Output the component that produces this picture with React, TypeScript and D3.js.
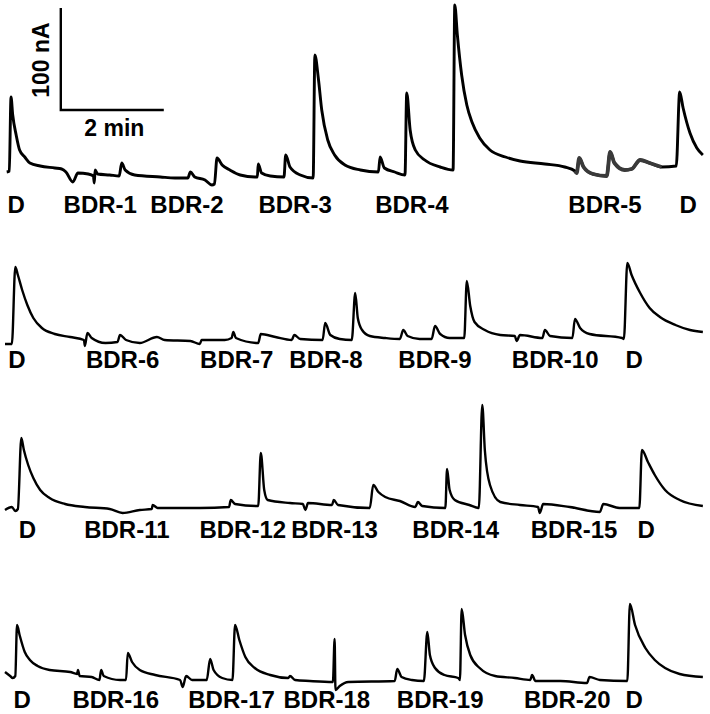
import React from "react";
import * as d3 from "d3";

// Time in seconds, current in nA (relative to each row's resting baseline)
const TRACE_1: [number, number][] = [
  [2, 3], [5, 4], [7, 78], [9, 60], [13, 40], [17, 25], [23, 18], [29, 12], [41, 9], [58, 7], [66, 6],
  [71, 3], [79, -7], [85, 2], [97, 1], [103, -1], [104, -8], [105, 5], [108, 1], [122, 0], [133, -1],
  [136, 12], [140, 5], [151, 0], [181, -2], [198, -3], [213, -3], [216, 3], [221, -2], [233, -5],
  [241, -10], [244, -9], [247, 17], [253, 10], [262, 5], [274, 0], [291, -2], [294, -2], [295, 11],
  [299, 2], [309, -1], [325, -2], [327, 20], [332, 8], [344, 0], [359, -3], [361, 120], [365, 97],
  [369, 65], [376, 35], [384, 20], [396, 10], [414, 5], [435, 3], [437, 18], [442, 7], [454, 3],
  [466, 0], [468, 82], [472, 45], [478, 25], [489, 15], [507, 8], [522, 5], [524, 170], [527, 140],
  [532, 100], [538, 70], [544, 53], [553, 37], [565, 25], [583, 18], [600, 14], [629, 11], [652, 8],
  [664, 4], [666, 2], [669, 17], [674, 8], [685, 1], [701, -1], [705, 23], [710, 12], [722, 5],
  [730, 6], [740, 15], [751, 12], [765, 8], [782, 9], [786, 83], [790, 67], [798, 42], [806, 27], [813, 20],
];

const TRACE_2: [number, number][] = [
  [0, -4], [8, -4], [12, 73], [15, 65], [20, 50], [26, 35], [33, 22], [43, 12], [58, 6], [76, 3],
  [92, 0], [93, -6], [96, 7], [101, 2], [117, -3], [131, -2], [134, 5], [141, 0], [157, -3], [177, 3],
  [186, 0], [216, -1], [227, -4], [229, 0], [256, 0], [264, 2], [266, 8], [269, 2], [295, -3], [298, 6],
  [315, 3], [334, 0], [337, 5], [344, 1], [370, 0], [373, 17], [379, 5], [390, 1], [404, 0], [408, 47],
  [411, 22], [416, 10], [425, 4], [443, 2], [460, 1], [464, 10], [469, 4], [483, 1], [497, 1], [501, 14],
  [507, 6], [518, 2], [535, 2], [538, 59], [542, 34], [547, 18], [559, 10], [577, 5], [594, 4], [596, -1],
  [600, 5], [626, 2], [629, 10], [635, 4], [661, 2], [664, 21], [670, 12], [681, 6], [719, 2], [721, 1],
  [725, 77], [730, 65], [740, 47], [751, 32], [763, 23], [781, 15], [798, 10], [813, 8],
];

const TRACE_3: [number, number][] = [
  [0, -2], [8, 1], [12, -3], [15, -1], [19, 70], [22, 58], [27, 43], [33, 30], [41, 18], [52, 10],
  [70, 4], [93, 1], [122, -1], [137, -5], [157, -2], [171, -1], [172, 3], [178, 0], [227, 0], [261, 1],
  [263, 8], [268, 4], [295, 2], [298, 55], [302, 18], [306, 8], [332, 5], [347, 4], [350, -2], [353, 5],
  [381, 3], [383, 8], [388, 3], [425, 0], [429, 23], [435, 16], [443, 11], [460, 7], [478, 1], [481, 6],
  [486, 2], [513, 0], [515, 39], [518, 18], [524, 8], [541, 3], [552, 0], [556, 103], [559, 58], [565, 23],
  [577, 6], [600, 3], [621, 1], [623, -5], [627, 4], [658, 1], [693, -4], [697, 4], [716, 0], [739, 0],
  [742, 58], [749, 46], [757, 33], [769, 18], [786, 8], [813, 2],
];

const TRACE_4: [number, number][] = [
  [0, 8], [6, 4], [9, 2], [12, 4], [14, 55], [17, 45], [23, 28], [29, 20], [38, 14], [52, 10], [76, 8],
  [84, 6], [85, 10], [87, 4], [101, 3], [110, 0], [112, 10], [115, 4], [134, 0], [141, 0], [143, 27],
  [148, 18], [157, 10], [175, 5], [204, 0], [207, -7], [211, 4], [218, 0], [235, 0], [239, 21], [243, 10],
  [253, 2], [265, 0], [268, 55], [273, 40], [280, 23], [291, 12], [309, 5], [330, 2], [332, 4], [338, 0],
  [355, -1], [382, -2], [384, 41], [385, -10], [390, -6], [400, -2], [454, -1], [457, 11], [462, 3],
  [474, 0], [488, -1], [492, 48], [495, 25], [501, 12], [512, 5], [528, 2], [530, 0], [532, 71], [536, 45],
  [542, 25], [553, 12], [571, 4], [594, 2], [612, 0], [614, 5], [618, -1], [647, -1], [678, -3], [681, 3],
  [693, 0], [725, -1], [728, 76], [734, 55], [746, 32], [757, 20], [769, 12], [786, 6], [813, 3],
];

// Labels: [text, time (s) of label centre]
const LABELS_1: [string, number][] = [
  ["D", 13], ["BDR-1", 111], ["BDR-2", 212], ["BDR-3", 338], ["BDR-4", 474], ["BDR-5", 699], ["D", 796],
];
const LABELS_2: [string, number][] = [
  ["D", 14], ["BDR-6", 137], ["BDR-7", 270], ["BDR-8", 374], ["BDR-9", 501], ["BDR-10", 641], ["D", 733],
];
const LABELS_3: [string, number][] = [
  ["D", 26], ["BDR-11", 142], ["BDR-12", 277], ["BDR-13", 384], ["BDR-14", 525], ["BDR-15", 663], ["D", 747],
];
const LABELS_4: [string, number][] = [
  ["D", 20], ["BDR-16", 129], ["BDR-17", 264], ["BDR-18", 375], ["BDR-19", 507], ["BDR-20", 655], ["D", 733],
];

// Grey-recorded segment of the first trace (s)
const GREY_SEGMENT_1: [number, number] = [658, 780];

// Scale bar: 2 min, 100 nA
const SCALE_BAR_TIME = 120;
const SCALE_BAR_CURRENT = 100;

const FONT = "'Liberation Sans', Arial, Helvetica, sans-serif";

const rows = [
  { trace: TRACE_1, labels: LABELS_1, base: 175, labelY: 213, width: 2.9 },
  { trace: TRACE_2, labels: LABELS_2, base: 340, labelY: 368, width: 2.4 },
  { trace: TRACE_3, labels: LABELS_3, base: 508, labelY: 538, width: 2.4 },
  { trace: TRACE_4, labels: LABELS_4, base: 680, labelY: 708, width: 2.4 },
];

export default function App() {
  const W = 710;
  const H = 714;
  const x = d3.scaleLinear().domain([0, 815]).range([5, 5 + 815 / 1.165]);

  const yFor = (base: number) => d3.scaleLinear().domain([0, 100]).range([base, base - 100]);

  const sbY = yFor(110);
  const sbX0 = x(65);
  const sbX1 = x(65 + SCALE_BAR_TIME);
  const sbYTop = sbY(SCALE_BAR_CURRENT + 2);
  const sbYBot = sbY(0);

  return (
    <svg
      width={W}
      height={H}
      style={{ position: "absolute", left: 0, top: 0, display: "block", background: "#fff" }}
    >
      <rect width={W} height={H} fill="#fff" />
      {rows.map((r, i) => {
        const y = yFor(r.base);
        const line = d3
          .line<[number, number]>()
          .x((d) => x(d[0]))
          .y((d) => y(d[1]))
          .curve(d3.curveMonotoneX);
        const grey =
          i === 0
            ? r.trace.filter((d) => d[0] >= GREY_SEGMENT_1[0] && d[0] <= GREY_SEGMENT_1[1])
            : null;
        return (
          <g key={i}>
            <path
              d={line(r.trace) || ""}
              fill="none"
              stroke="#000"
              strokeWidth={r.width}
              strokeLinejoin="round"
            />
            {grey && (
              <path
                d={line(grey) || ""}
                fill="none"
                stroke="#3a3a3a"
                strokeWidth={3.8}
                strokeLinejoin="round"
              />
            )}
            {r.labels.map(([t, tt], j) => (
              <text
                key={j}
                x={x(tt)}
                y={r.labelY}
                textAnchor="middle"
                fontFamily={FONT}
                fontWeight="bold"
                fontSize={24}
                fill="#000"
              >
                {t}
              </text>
            ))}
          </g>
        );
      })}
      {/* scale bar */}
      <path
        d={`M${sbX0},${sbYTop}V${sbYBot}H${sbX1}`}
        fill="none"
        stroke="#000"
        strokeWidth={2.4}
      />
      <text
        x={(sbX0 + sbX1) / 2 + 2}
        y={136}
        textAnchor="middle"
        fontFamily={FONT}
        fontWeight="bold"
        fontSize={23}
      >
        2 min
      </text>
      <text
        transform={`translate(49,${(sbYTop + sbYBot) / 2 + 1}) rotate(-90)`}
        textAnchor="middle"
        fontFamily={FONT}
        fontWeight="bold"
        fontSize={23}
      >
        100 nA
      </text>
    </svg>
  );
}
